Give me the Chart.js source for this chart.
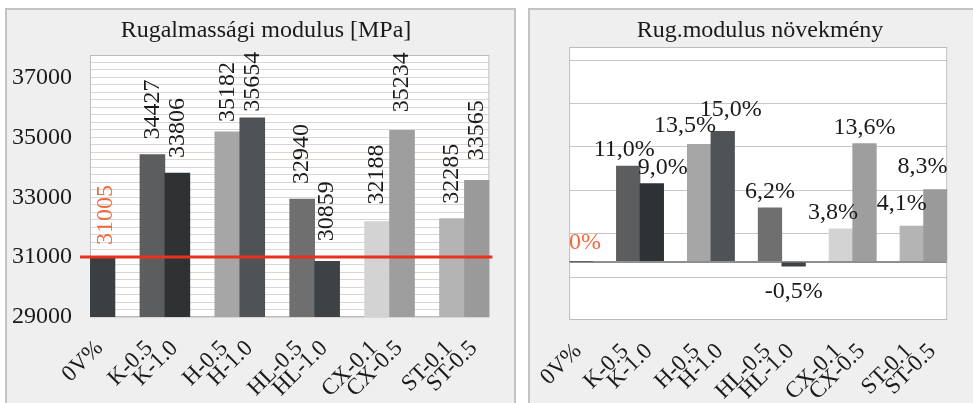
<!DOCTYPE html>
<html>
<head>
<meta charset="utf-8">
<script src="https://cdn.jsdelivr.net/npm/chart.js@4.4.1/dist/chart.umd.min.js"></script>
<style>
  body { margin: 0; background: #fff; width: 973px; height: 403px; overflow: hidden; position: relative; }
  .panel { position: absolute; top: 8px; height: 400px; background: #efefef; border: 2px solid #c3c3c3; border-bottom: none; box-sizing: border-box; }
  #p1 { left: 5px; width: 511px; }
  #p2 { left: 528px; width: 450px; border-right: none; }
  canvas { position: absolute; top: 8px; }
  #c1 { left: 6px; }
  #c2 { left: 529px; }
</style>
</head>
<body>
<div class="panel" id="p1"></div>
<div class="panel" id="p2"></div>
<canvas id="c1" width="509" height="395"></canvas>
<canvas id="c2" width="444" height="395"></canvas>
<script>
// adatok (leolvasva az ábráról)
const slots = ['0V%', '', 'K-0.5', 'K-1.0', '', 'H-0.5', 'H-1.0', '', 'HL-0.5', 'HL-1.0', '', 'CX-0.1', 'CX-0.5', '', 'ST-0.1', 'ST-0.5'];
const modulus = [31005, null, 34427, 33806, null, 35182, 35654, null, 32940, 30859, null, 32188, 35234, null, 32285, 33565];
const increase = [0, null, 11.0, 9.0, null, 13.5, 15.0, null, 6.2, -0.5, null, 3.8, 13.6, null, 4.1, 8.3];
const modulusTicks = [29000, 31000, 33000, 35000, 37000];
const increaseGrid = [-1.8, 3.2, 8.2, 13.2, 18.2, 23.2];

const barColors = ['#3c3f41', null, '#5b5d5f', '#2f3234', null, '#a6a6a6', '#505355', null, '#6f6f6f', '#3f4245', null, '#d3d3d3', '#9e9e9e', null, '#b4b4b4', '#9a9a9a'];
const serif = "'Liberation Serif', 'Times New Roman', serif";

// fehér rajzterület + szürke keret
const plotBox = {
  id: 'plotBox',
  beforeDraw(chart) {
    const a = chart.chartArea, ctx = chart.ctx;
    ctx.save();
    ctx.fillStyle = '#fff';
    ctx.fillRect(a.left, a.top, a.right - a.left, a.bottom - a.top);
    ctx.restore();
  },
  beforeDatasetsDraw(chart) {
    const a = chart.chartArea, ctx = chart.ctx;
    ctx.save();
    ctx.strokeStyle = '#bcbcbc';
    ctx.lineWidth = 1;
    ctx.strokeRect(a.left + 0.5, a.top + 0.5, a.right - a.left - 1, a.bottom - a.top - 1);
    ctx.restore();
  }
};

// cím (a panelhez igazítva, nem a rajzterülethez)
const panelTitle = {
  id: 'panelTitle',
  afterDraw(chart, args, opts) {
    const ctx = chart.ctx;
    ctx.save();
    ctx.font = '24px ' + serif;
    ctx.fillStyle = '#1a1a1a';
    ctx.textAlign = 'center';
    ctx.textBaseline = 'middle';
    ctx.fillText(opts.text, opts.x, opts.y);
    ctx.restore();
  }
};

// piros vonal a 0V% szintjén
const refLine = {
  id: 'refLine',
  afterDatasetsDraw(chart, args, opts) {
    if (!opts.show) return;
    const a = chart.chartArea, ctx = chart.ctx;
    const y = chart.scales.y.getPixelForValue(chart.data.datasets[0].data[0]);
    ctx.save();
    ctx.strokeStyle = '#e8321e';
    ctx.lineWidth = 3;
    ctx.beginPath();
    ctx.moveTo(a.left - 10, y);
    ctx.lineTo(a.right + 3, y);
    ctx.stroke();
    ctx.restore();
  }
};

// értékcímkék
const valueLabels = {
  id: 'valueLabels',
  afterDatasetsDraw(chart, args, opts) {
    const ctx = chart.ctx;
    const meta = chart.getDatasetMeta(0);
    const data = chart.data.datasets[0].data;
    ctx.save();
    ctx.font = opts.font;
    meta.data.forEach((bar, i) => {
      const v = data[i];
      if (v === null || v === undefined) return;
      const n = opts.nudge[i] || [0, 0];
      ctx.fillStyle = i === 0 ? opts.firstColor : opts.color;
      if (opts.vertical) {
        ctx.save();
        ctx.translate(bar.x + n[0], bar.y - opts.gap + n[1]);
        ctx.rotate(-Math.PI / 2);
        ctx.textAlign = 'left';
        ctx.textBaseline = 'middle';
        ctx.fillText(opts.format(v), 0, 0);
        ctx.restore();
      } else {
        const y = v >= 0 ? bar.y - opts.gap : bar.y + opts.gap;
        ctx.textAlign = 'center';
        ctx.textBaseline = 'middle';
        ctx.fillText(opts.format(v), bar.x + n[0], y + n[1]);
      }
    });
    ctx.restore();
  }
};

function xAxis(h) {
  return {
    grid: { display: false, drawTicks: false },
    border: { display: false },
    ticks: { autoSkip: false, minRotation: 45, maxRotation: 45, padding: 18, labelOffset: -3, color: '#1a1a1a', font: { family: serif, size: 23 } },
    afterFit: s => { s.height = h; }
  };
}

new Chart(document.getElementById('c1'), {
  type: 'bar',
  data: {
    labels: slots,
    datasets: [{
      data: modulus,
      backgroundColor: barColors,
      barPercentage: 1,
      categoryPercentage: 1
    }]
  },
  options: {
    responsive: false,
    animation: false,
    layout: { padding: { top: 47, right: 18 } },
    scales: {
      x: xAxis(86),
      y: {
        min: 29000,
        max: 37750,
        afterBuildTicks: s => {
          s.ticks = [];
          for (let v = 29000; v <= 37750; v += 250) s.ticks.push({ value: v });
        },
        grid: { color: '#ddd5d1', drawTicks: false },
        border: { display: false },
        ticks: {
          autoSkip: false,
          padding: 18,
          color: '#1a1a1a',
          font: { family: serif, size: 24 },
          callback: v => modulusTicks.includes(v) ? String(v) : ''
        },
        afterFit: s => { s.width = 84; }
      }
    },
    plugins: {
      legend: { display: false },
      tooltip: { enabled: false },
      panelTitle: { text: 'Rugalmassági modulus [MPa]', x: 260, y: 23 },
      refLine: { show: true },
      valueLabels: {
        vertical: true,
        gap: 15,
        font: '24px ' + serif,
        color: '#1a1a1a',
        firstColor: '#f06a3e',
        format: v => String(v),
        nudge: [[3, 3], null, [0, 0], [0, 0], null, [0, 5], [0, 9], null, [0, 0], [0, -5], null, [0, -2], [0, -3], null, [0, 0], [0, -5]]
      }
    }
  },
  plugins: [plotBox, panelTitle, refLine, valueLabels]
});

new Chart(document.getElementById('c2'), {
  type: 'bar',
  data: {
    labels: slots,
    datasets: [{
      data: increase,
      backgroundColor: barColors,
      barPercentage: 1,
      categoryPercentage: 1
    }]
  },
  options: {
    responsive: false,
    animation: false,
    layout: { padding: { top: 39, right: 8 } },
    scales: {
      x: xAxis(83),
      y: {
        min: -6.7,
        max: 24.7,
        afterBuildTicks: s => {
          s.ticks = [0].concat(increaseGrid).map(v => ({ value: v }));
        },
        grid: {
          color: c => c.tick && c.tick.value === 0 ? '#8f8f8f' : '#cdc5c1',
          lineWidth: c => c.tick && c.tick.value === 0 ? 2 : 1,
          drawTicks: false
        },
        border: { display: false },
        ticks: { display: false },
        afterFit: s => { s.width = 34; }
      }
    },
    plugins: {
      legend: { display: false },
      tooltip: { enabled: false },
      panelTitle: { text: 'Rug.modulus növekmény', x: 231, y: 23 },
      refLine: { show: false },
      valueLabels: {
        vertical: false,
        gap: 16,
        font: '24px ' + serif,
        color: '#1a1a1a',
        firstColor: '#f06a3e',
        format: v => v === 0 ? '0%' : v.toFixed(1).replace('.', ',') + '%',
        nudge: [[4, -3], null, [-4, 0], [11, 0], null, [-14, -3], [8, -6], null, [0, 0], [0, 10], null, [-8, 0], [0, 0], null, [-10, -6], [-13, -7]]
      }
    }
  },
  plugins: [plotBox, panelTitle, refLine, valueLabels]
});
</script>
</body>
</html>
